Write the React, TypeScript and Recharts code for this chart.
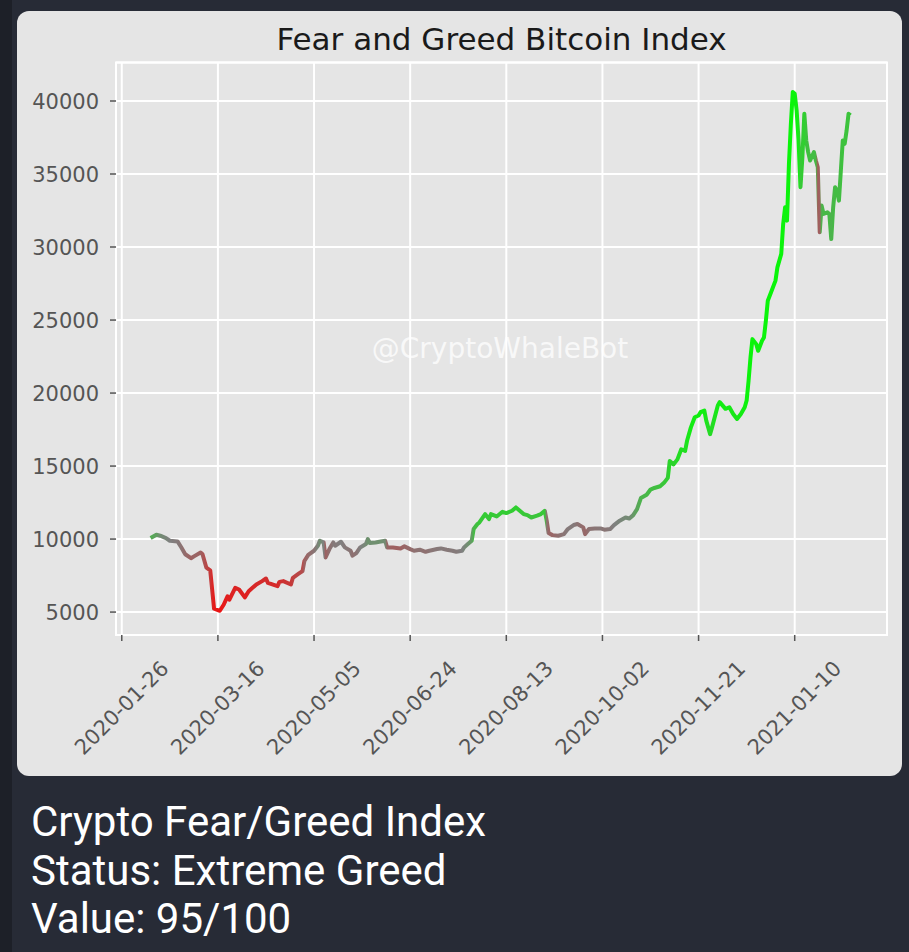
import { LineChart, Line, XAxis, YAxis, CartesianGrid, ReferenceArea } from "recharts";

// days after 2020-01-26, BTC price (USD), fear & greed index (0-100)
const days = [
  15, 18, 20, 23, 25, 29, 31, 33, 36, 38, 41, 42, 44, 46, 48, 51, 53, 55, 56, 59,
  61, 64, 66, 68, 70, 73, 75, 76, 81, 82, 84, 88, 89, 92, 94, 95, 97, 100, 102, 103,
  105, 106, 108, 110, 111, 114, 116, 119, 120, 122, 124, 127, 128, 129, 132, 134, 137, 138, 141, 145,
  147, 150, 152, 155, 158, 160, 164, 166, 169, 172, 174, 177, 178, 180, 182, 183, 185, 186, 189, 191,
  192, 195, 198, 200, 203, 205, 207, 209, 211, 213, 216, 218, 220, 221, 222, 224, 227, 230, 232, 235,
  237, 240, 241, 243, 246, 249, 251, 254, 256, 259, 262, 264, 266, 268, 270, 273, 275, 277, 280, 282,
  284, 285, 287, 289, 291, 293, 294, 296, 298, 300, 301, 303, 304, 306, 307, 310, 311, 314, 316, 318,
  320, 322, 324, 325, 326, 327, 328, 330, 331, 333, 334, 335, 336, 338, 340, 341, 342, 343, 344, 345,
  346, 347, 348, 349, 350, 351, 352, 353, 354, 355, 356, 357, 358, 360, 361, 362, 363, 364, 365, 367,
  368, 369, 370, 371, 372, 373, 374, 375, 376, 377, 378, 379,
];
const prices = [
  10070, 10300, 10230, 10070, 9885, 9840, 9420, 8960, 8690, 8850, 9080, 8960, 8040, 7860, 5230, 5090, 5500, 6080, 5850, 6660,
  6545, 6010, 6430, 6660, 6890, 7120, 7300, 7000, 6770, 7070, 7120, 6890, 7350, 7630, 7810, 8500, 8920, 9200, 9543, 9886,
  9770, 8744, 9315, 9770, 9543, 9817, 9430, 9200, 8860, 9041, 9430, 9657, 10000, 9726, 9770, 9817, 9886, 9430, 9430, 9360,
  9500, 9315, 9200, 9270, 9130, 9200, 9315, 9360, 9270, 9200, 9130, 9200, 9430, 9657, 9886, 10685, 11027, 11140, 11710, 11370,
  11710, 11550, 11870, 11780, 11940, 12170, 11940, 11710, 11640, 11480, 11600, 11710, 11940, 11260, 10410, 10270, 10230, 10340, 10685, 10960,
  11030, 10800, 10340, 10685, 10730, 10730, 10640, 10685, 10960, 11260, 11480, 11410, 11640, 12050, 12810, 13040, 13390, 13500, 13620, 13850,
  14190, 15350, 15115, 15460, 16150, 16040, 16730, 17650, 18340, 18460, 18690, 18800, 18110, 17190, 17650, 19150, 19380, 18920, 19030, 18570,
  18230, 18570, 19030, 19490, 20835, 22436, 23694, 23350, 22893, 23580, 23810, 24950, 26325, 27010, 27700, 28610, 29070, 29530, 31580, 32730,
  31810, 35700, 38445, 40620, 40500, 39360, 37300, 34100, 36160, 39130, 37300, 36500, 35930, 36500, 35930, 35470, 31010, 32840, 32270, 32380,
  32270, 30550, 32730, 34100, 33870, 33180, 35240, 37300, 37070, 37990, 39130, 39020,
];
const greedIndex = [
  68, 62, 55, 52, 50, 48, 45, 42, 38, 40, 38, 35, 28, 22, 10, 8, 10, 12, 12, 14,
  14, 12, 14, 15, 16, 17, 18, 17, 16, 18, 20, 22, 25, 28, 30, 38, 42, 46, 52, 56,
  50, 38, 44, 48, 48, 50, 48, 46, 44, 46, 50, 54, 58, 56, 56, 57, 55, 40, 38, 38,
  40, 42, 44, 45, 44, 46, 47, 48, 47, 48, 48, 50, 52, 56, 62, 72, 76, 78, 80, 78,
  80, 78, 80, 80, 80, 82, 80, 78, 78, 76, 78, 78, 78, 45, 40, 40, 44, 46, 48, 48,
  45, 42, 40, 45, 46, 47, 46, 48, 50, 52, 54, 54, 60, 65, 70, 72, 74, 74, 76, 78,
  80, 85, 82, 86, 88, 86, 90, 92, 93, 93, 94, 94, 88, 85, 86, 92, 94, 92, 92, 90,
  90, 92, 94, 95, 95, 96, 96, 95, 94, 95, 95, 96, 96, 96, 96, 96, 96, 96, 95, 95,
  95, 96, 96, 96, 95, 94, 90, 78, 80, 82, 76, 75, 74, 74, 73, 36, 38, 70, 72, 72,
  72, 70, 72, 74, 74, 73, 75, 76, 76, 76, 77, 77,
];

const xTicks = [0, 50, 100, 150, 200, 250, 300, 350];
const xTickLabels = [
  "2020-01-26", "2020-03-16", "2020-05-05", "2020-06-24",
  "2020-08-13", "2020-10-02", "2020-11-21", "2021-01-10",
];
const yTicks = [5000, 10000, 15000, 20000, 25000, 30000, 35000, 40000];

const X_DOMAIN = [-3, 398];
const Y_DOMAIN = [3430, 42640];
const FONT = "'DejaVu Sans', sans-serif";

const data = days.map((day, i) => ({ day, price: prices[i] }));

// 0 = extreme fear (red), 50 = neutral (grey), 100 = extreme greed (green)
const greedColor = (v: number) => {
  const t = v / 100;
  const r = Math.round(255 * (1 - t));
  const g = Math.round(255 * t);
  const b = Math.round(255 * (0.5 - Math.abs(t - 0.5)));
  return `rgb(${r},${g},${b})`;
};

const XTick = ({ x, y, payload }: any) => {
  const label = xTickLabels[xTicks.indexOf(payload.value)];
  const cy = y + 65;
  return (
    <text
      x={x}
      y={cy}
      textAnchor="middle"
      dominantBaseline="central"
      transform={`rotate(-45 ${x} ${cy})`}
      fill="#555"
      fontSize={21}
      fontFamily={FONT}
    >
      {label}
    </text>
  );
};

const App = () => {
  const first = days[0];
  const span = days[days.length - 1] - first;
  return (
    <div style={{ position: "fixed", left: 0, top: 0, width: 909, height: 952, background: "#1d2028", overflow: "hidden" }}>
      <div style={{ position: "absolute", left: 12, top: 0, width: 897, height: 952, background: "#272b36" }} />
      <div style={{ position: "absolute", left: 17, top: 11, width: 885, height: 765, background: "#e5e5e5", borderRadius: 12, overflow: "hidden" }}>
        <div style={{ position: "absolute", left: 99, width: 771, top: 10, textAlign: "center", fontFamily: FONT, fontSize: 31, color: "#1a1a1a", lineHeight: "36px" }}>
          Fear and Greed Bitcoin Index
        </div>
        <LineChart width={885} height={765} data={data} margin={{ top: 51.5, right: 15, left: 0, bottom: 0 }}>
          <defs>
            <linearGradient id="greedGrad" x1="0" y1="0" x2="1" y2="0">
              {days.map((d, i) => (
                <stop key={i} offset={(d - first) / span} stopColor={greedColor(greedIndex[i])} />
              ))}
            </linearGradient>
          </defs>
          <CartesianGrid stroke="#ffffff" strokeWidth={2} />
          <ReferenceArea x1={X_DOMAIN[0]} x2={X_DOMAIN[1]} y1={Y_DOMAIN[0]} y2={Y_DOMAIN[1]} fill="none" stroke="#ffffff" strokeWidth={2} ifOverflow="visible" />
          <XAxis
            type="number"
            dataKey="day"
            domain={X_DOMAIN}
            ticks={xTicks}
            allowDataOverflow
            height={141}
            tickSize={6}
            tickMargin={2}
            tickLine={{ stroke: "#555", strokeWidth: 1.5 }}
            axisLine={false}
            tick={<XTick />}
          />
          <YAxis
            type="number"
            domain={Y_DOMAIN}
            ticks={yTicks}
            allowDataOverflow
            width={99}
            tickSize={6}
            tickMargin={11}
            tickLine={{ stroke: "#555", strokeWidth: 1.5 }}
            axisLine={false}
            tick={{ fill: "#555", fontSize: 21, fontFamily: FONT }}
          />
          <Line
            type="linear"
            dataKey="price"
            stroke="url(#greedGrad)"
            strokeWidth={4}
            strokeLinejoin="round"
            dot={false}
            activeDot={false}
            isAnimationActive={false}
          />
        </LineChart>
        <div style={{ position: "absolute", left: 283, width: 400, top: 320, textAlign: "center", fontFamily: FONT, fontSize: 28, color: "rgba(255,255,255,0.75)", lineHeight: "36px" }}>
          @CryptoWhaleBot
        </div>
      </div>
      <div style={{ position: "absolute", left: 31, top: 798, fontFamily: "Roboto, sans-serif", fontSize: 42, lineHeight: "48.5px", color: "#ffffff" }}>
        <div>Crypto Fear/Greed Index</div>
        <div>Status: Extreme Greed</div>
        <div>Value: 95/100</div>
      </div>
    </div>
  );
};

export default App;
